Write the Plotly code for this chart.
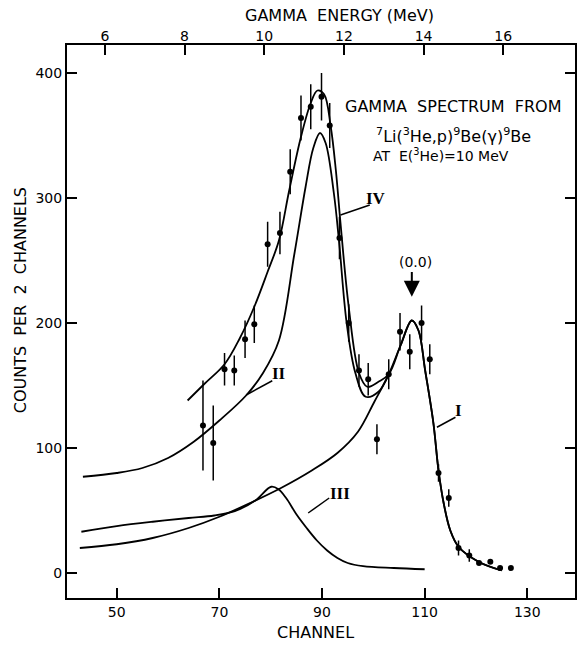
import plotly.graph_objects as go

# ---------------- data ----------------
channel = [66.8, 68.8, 71.0, 72.9, 75.0, 76.8, 79.4, 81.8, 83.8, 85.9, 87.8, 89.9,
           91.5, 93.4, 95.2, 97.2, 99.0, 100.7, 103.0, 105.2, 107.1, 109.4, 111.0,
           112.7, 114.7, 116.6, 118.7, 120.6, 122.8, 124.7, 126.8]
counts = [118, 104, 163, 162, 187, 199, 263, 272, 321, 364, 373, 381,
          358, 268, 200, 162, 155, 107, 159, 193, 177, 200, 171,
          80, 60, 20, 14, 8, 9, 4, 4]
err = [36, 30, 13, 12, 15, 15, 18, 17, 18, 18, 18, 19,
       18, 17, 15, 13, 13, 12, 12, 15, 14, 14, 12,
       7, 7, 6, 5, 0, 0, 0, 0]

# fitted curves (channel, counts)
peak0_ch = [103.0, 105.3, 107.5, 108.8, 110.1, 111.7, 112.7, 113.7, 115.0, 116.6, 120.5, 125.0]
peak0_ct = [159, 182, 202, 194, 162, 120, 82, 56, 34, 21, 9, 2]

curveIV_ch = [63.8, 67, 71, 74, 76.8, 79.4, 81.6, 83.6, 85.9, 87.8, 89.1, 90.4, 91.7,
              92.7, 93.6, 95.2, 97.2, 98.8, 101.0]
curveIV_ct = [138, 151, 167, 188, 213, 241, 266, 306, 349, 376, 386, 383, 357,
              322, 280, 213, 160, 149, 153]

curveII_ch = [43.4, 50, 55, 60, 65, 70, 75.2, 78.5, 81.6, 84.6, 86.8, 88.3, 89.6, 90.7,
              92.3, 93.3, 94.8, 96.5, 98.5, 101.0]
curveII_ct = [77, 80, 84, 92, 105, 122, 142, 160, 186, 255, 309, 340, 352, 344,
              304, 266, 200, 160, 141, 145]

curveI_ch = [42.8, 50, 57, 64, 70, 76, 82, 88, 93, 97, 100.2]
curveI_ct = [20, 23, 28, 36, 45, 56, 68, 82, 96, 113, 137]

curveIII_ch = [43.1, 50, 57, 64, 69, 73, 77, 80.1, 81.5, 83, 85, 87, 89, 91, 93, 95,
               98, 104, 110]
curveIII_ct = [33, 37.5, 41, 44, 46, 49.5, 58, 69, 67, 60, 47, 36, 26, 18, 12, 8, 5.5, 4, 3]

x_range = [40.3, 139.3]
y_range = [-20, 422.4]
energy_range = [5.05, 17.8]
channel_ticks = [50, 70, 90, 110, 130]
count_ticks = [0, 100, 200, 300, 400]
energy_ticks = [6, 8, 10, 12, 14, 16]

FONT = "DejaVu Sans"
BLACK = "black"

fig = go.Figure()

def add_curve(xs, ys):
    fig.add_trace(go.Scatter(x=xs, y=ys, mode="lines",
                             line=dict(color=BLACK, width=1.8, shape="spline", smoothing=1.0),
                             hoverinfo="skip", showlegend=False))

add_curve(curveIV_ch + peak0_ch, curveIV_ct + peak0_ct)
add_curve(curveII_ch + peak0_ch[:1], curveII_ct + peak0_ct[:1])
add_curve(curveI_ch + peak0_ch, curveI_ct + peak0_ct)
add_curve(curveIII_ch, curveIII_ct)

fig.add_trace(go.Scatter(
    x=channel, y=counts, mode="markers",
    marker=dict(color=BLACK, size=6),
    error_y=dict(type="data", array=err, symmetric=True, color=BLACK, thickness=1.5, width=0),
    showlegend=False))

# invisible trace to hold the top energy axis
fig.add_trace(go.Scatter(x=energy_range, y=[None, None], xaxis="x2", mode="markers",
                         showlegend=False, hoverinfo="skip"))

fig.update_layout(
    width=582, height=648,
    margin=dict(l=67, r=5, t=45, b=50),
    paper_bgcolor="white", plot_bgcolor="white",
    font=dict(family=FONT, size=13, color=BLACK),
    xaxis=dict(range=x_range, tickvals=channel_ticks, ticks="inside", ticklen=10, tickwidth=2,
               tickcolor=BLACK, showline=True, linewidth=2, linecolor=BLACK, mirror=True,
               showgrid=False, zeroline=False, tickfont=dict(size=14)),
    xaxis2=dict(range=energy_range, tickvals=energy_ticks, overlaying="x", side="top",
                ticks="inside", ticklen=10, tickwidth=2, tickcolor=BLACK, showline=False,
                showgrid=False, zeroline=False, tickfont=dict(size=14)),
    yaxis=dict(range=y_range, tickvals=count_ticks, ticks="inside", ticklen=10, tickwidth=2,
               tickcolor=BLACK, showline=True, linewidth=2, linecolor=BLACK, mirror="ticks",
               showgrid=False, zeroline=False, tickfont=dict(size=14)),
)

ann = []
def label(x, y, text, size=14, xanchor="center"):
    ann.append(dict(x=x, y=y, xref="x", yref="y", text=text, showarrow=False,
                    xanchor=xanchor, yanchor="middle", font=dict(size=size, family=FONT)))

label(94.1, 373.6, "GAMMA  SPECTRUM  FROM", size=16, xanchor="left")
label(100.1, 350.4, "<sup>7</sup>Li(<sup>3</sup>He,p)<sup>9</sup>Be(γ)<sup>9</sup>Be", size=16, xanchor="left")
label(99.5, 334.4, "AT  E(<sup>3</sup>He)=10 MeV", size=14, xanchor="left")
label(108.2, 249, "(0.0)", size=14)

for x, y, t in [(100.5, 300, "IV"), (81.6, 160, "II"), (116.5, 130, "I"), (93.5, 64, "III")]:
    ann.append(dict(x=x, y=y, xref="x", yref="y", text="<b>" + t + "</b>", showarrow=False,
                    xanchor="center", yanchor="middle",
                    font=dict(size=17, family="Liberation Serif")))

# arrow for (0.0)
ann.append(dict(x=107.5, y=221, ax=107.5, ay=242, xref="x", yref="y", axref="x", ayref="y",
                text="", showarrow=True, arrowhead=2, arrowsize=1.6, arrowwidth=2, arrowcolor=BLACK))

# axis titles
ann.append(dict(x=(341 - 67) / 510, y=(598 - 15) / 553, xref="paper", yref="paper",
                xanchor="center", yanchor="middle",
                text="GAMMA  ENERGY (MeV)", showarrow=False, font=dict(size=16)))
ann.append(dict(x=(316 - 67) / 510, y=(598 - 633) / 553, xref="paper", yref="paper",
                xanchor="center", yanchor="middle",
                text="CHANNEL", showarrow=False, font=dict(size=16)))
ann.append(dict(x=(20 - 67) / 510, y=(598 - 300) / 553, xref="paper", yref="paper",
                xanchor="center", yanchor="middle",
                text="COUNTS  PER  2  CHANNELS", showarrow=False, textangle=-90, font=dict(size=16)))
fig.update_layout(annotations=ann)

# label pointer lines
for x0, y0, x1, y1 in [(99.3, 294.4, 93.6, 286.4), (80.3, 153.8, 75.2, 142.4),
                       (116.0, 124.6, 112.4, 116.6), (91.4, 60, 87.3, 48)]:
    fig.add_shape(type="line", x0=x0, y0=y0, x1=x1, y1=y1, xref="x", yref="y",
                  line=dict(color=BLACK, width=1.5))

fig.write_html("out.html")
